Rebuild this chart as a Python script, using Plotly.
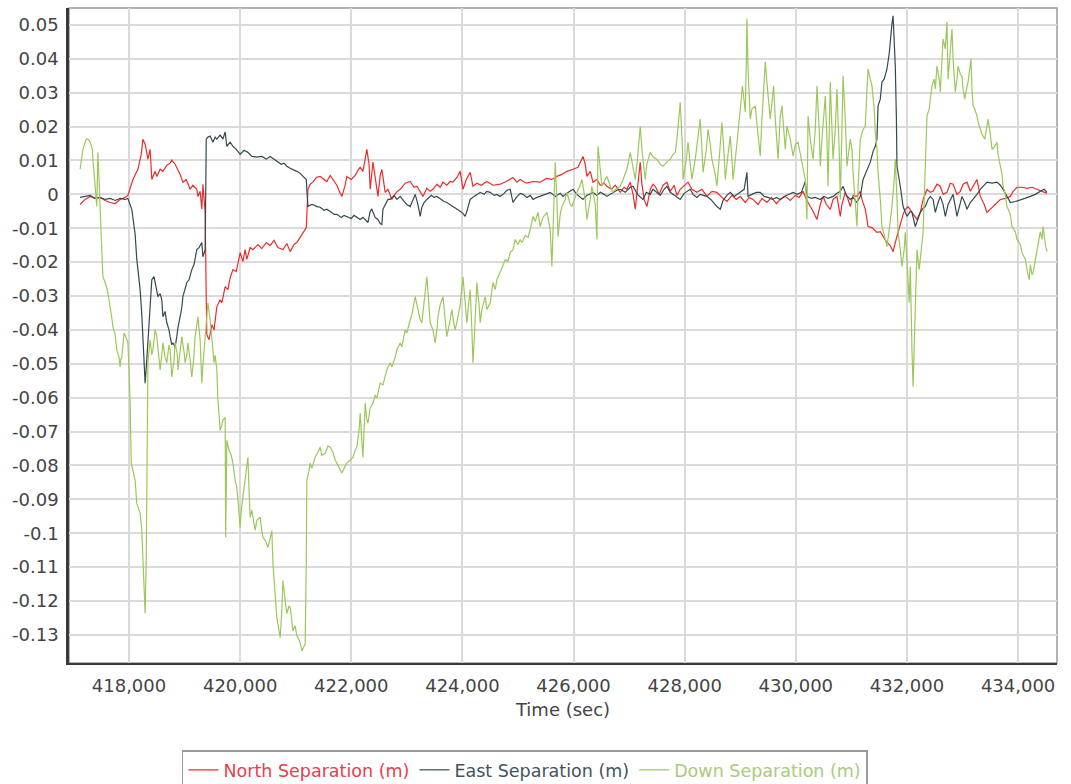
import plotly.graph_objects as go

# ---------------- data (time in seconds, separation in metres) ----------------
north_t = [
    417120, 417210, 417300, 417390, 417480, 417570, 417660, 417750, 417840, 417930,
    417980, 418070, 418160, 418220, 418250, 418290, 418340, 418380, 418410, 418470,
    418500, 418560, 418610, 418680, 418740, 418770, 418830, 418860, 418920, 418970,
    419030, 419100, 419150, 419220, 419240, 419280, 419310, 419330, 419370, 419390,
    419400, 419440, 419490, 419530, 419580, 419640, 419670, 419730, 419780, 419820,
    419870, 419930, 420000, 420050, 420090, 420120, 420180, 420230, 420320, 420390,
    420470, 420540, 420610, 420680, 420770, 420840, 420900, 420970, 421020, 421080,
    421130, 421190, 421220, 421260, 421310, 421370, 421440, 421510, 421560, 421620,
    421670, 421740, 421800, 421830, 421890, 421920, 422000, 422070, 422120, 422160,
    422210, 422250, 422280, 422320, 422340, 422390, 422450, 422480, 422520, 422550,
    422610, 422660, 422730, 422810, 422880, 422970, 423060, 423130, 423180, 423240,
    423290, 423360, 423420, 423470, 423540, 423600, 423650, 423720, 423780, 423830,
    423900, 423960, 424010, 424070, 424140, 424190, 424260, 424340, 424440, 424550,
    424680, 424790, 424910, 424980, 425040, 425150, 425270, 425400, 425510, 425610,
    425700, 425790, 425880, 425990, 426080, 426170, 426210, 426240, 426300, 426350,
    426420, 426480, 426550, 426600, 426680, 426750, 426840, 426910, 426960, 427020,
    427070, 427110, 427150, 427200, 427230, 427270, 427320, 427380, 427430, 427470,
    427540, 427610, 427680, 427740, 427810, 427860, 427920, 427990, 428060, 428130,
    428220, 428310, 428400, 428490, 428580, 428670, 428760, 428850, 428930, 429000,
    429090, 429160, 429230, 429320, 429390, 429480, 429560, 429650, 429720, 429810,
    429900, 429990, 430060, 430130, 430190, 430260, 430310, 430380, 430440, 430490,
    430550, 430620, 430670, 430740, 430800, 430830, 430890, 430940, 430980, 431030,
    431100, 431160, 431190, 431250, 431300, 431370, 431460, 431520, 431570, 431640,
    431700, 431750, 431790, 431840, 431880, 431930, 431970, 432020, 432090, 432150,
    432180, 432240, 432290, 432360, 432420, 432470, 432540, 432600, 432650, 432720,
    432780, 432830, 432900, 432960, 433010, 433080, 433140, 433190, 433260, 433320,
    433390, 433440, 433500, 433550, 433620, 433680, 433770, 433860, 433910, 433980,
    434070, 434160, 434250, 434340, 434430, 434520,
]
north_v = [
    -0.0030, -0.0015, -0.0006, -0.0012, -0.0009, -0.0018, -0.0024, -0.0027, -0.0015, -0.0009,
    -0.0003, 0.0044, 0.0074, 0.0118, 0.0163, 0.0148, 0.0104, 0.0133, 0.0044, 0.0068,
    0.0053, 0.0074, 0.0068, 0.0086, 0.0092, 0.0101, 0.0089, 0.0080, 0.0059, 0.0036,
    0.0044, 0.0015, 0.0027, 0.0015, -0.0006, 0.0009, -0.0044, 0.0030, -0.0053, -0.0311,
    -0.0414, -0.0429, -0.0385, -0.0400, -0.0332, -0.0311, -0.0320, -0.0272, -0.0281, -0.0246,
    -0.0222, -0.0228, -0.0172, -0.0198, -0.0163, -0.0192, -0.0157, -0.0163, -0.0148, -0.0160,
    -0.0142, -0.0151, -0.0136, -0.0157, -0.0163, -0.0145, -0.0169, -0.0148, -0.0142, -0.0127,
    -0.0112, -0.0098, 0.0015, 0.0030, 0.0036, 0.0050, 0.0053, 0.0044, 0.0038, 0.0056,
    0.0044, 0.0027, 0.0003, -0.0006, 0.0027, 0.0053, 0.0044, 0.0056, 0.0071, 0.0080,
    0.0068, 0.0104, 0.0133, 0.0089, 0.0015, 0.0095, 0.0036, -0.0006, 0.0056, 0.0074,
    0.0006, 0.0015, -0.0015, 0.0006, 0.0015, 0.0033, 0.0038, 0.0021, 0.0024, 0.0006,
    -0.0006, 0.0018, 0.0009, 0.0015, 0.0030, 0.0021, 0.0036, 0.0027, 0.0038, 0.0036,
    0.0050, 0.0068, 0.0015, 0.0044, 0.0065, 0.0024, 0.0033, 0.0027, 0.0038, 0.0027,
    0.0030, 0.0038, 0.0050, 0.0036, 0.0044, 0.0033, 0.0038, 0.0036, 0.0047, 0.0044,
    0.0053, 0.0059, 0.0068, 0.0074, 0.0080, 0.0112, 0.0089, 0.0053, 0.0068, 0.0036,
    0.0044, 0.0027, 0.0033, 0.0024, 0.0015, 0.0027, 0.0006, 0.0021, 0.0015, 0.0036,
    0.0000, -0.0044, 0.0015, 0.0095, 0.0030, -0.0015, -0.0036, 0.0015, 0.0030, 0.0024,
    0.0000, 0.0027, 0.0036, 0.0009, 0.0027, -0.0003, 0.0015, 0.0027, 0.0036, 0.0015,
    0.0006, 0.0015, -0.0006, 0.0009, 0.0006, -0.0009, -0.0021, -0.0003, -0.0015, -0.0006,
    -0.0024, -0.0009, -0.0015, -0.0030, -0.0012, -0.0024, -0.0009, -0.0027, -0.0015, -0.0006,
    -0.0018, -0.0003, -0.0009, 0.0009, -0.0015, -0.0036, -0.0050, -0.0074, -0.0030, -0.0006,
    -0.0030, -0.0044, -0.0015, -0.0006, -0.0065, -0.0030, 0.0006, -0.0015, -0.0036, -0.0003,
    -0.0006, 0.0009, -0.0015, -0.0044, -0.0095, -0.0098, -0.0112, -0.0110, -0.0124, -0.0142,
    -0.0151, -0.0169, -0.0142, -0.0110, -0.0083, -0.0059, -0.0044, -0.0036, -0.0053, -0.0065,
    -0.0074, -0.0053, -0.0015, 0.0015, 0.0006, 0.0009, 0.0030, 0.0024, 0.0000, 0.0006,
    0.0033, 0.0030, 0.0000, 0.0009, 0.0030, 0.0036, 0.0009, 0.0024, 0.0044, -0.0006,
    -0.0030, -0.0053, -0.0044, -0.0036, -0.0024, -0.0015, -0.0012, -0.0006, 0.0009, 0.0021,
    0.0021, 0.0018, 0.0021, 0.0015, 0.0009, 0.0003,
]

east_t = [
    417120, 417210, 417300, 417390, 417480, 417570, 417660, 417750, 417840, 417930,
    417980, 418050, 418110, 418140, 418200, 418230, 418250, 418270, 418290, 418320,
    418340, 418380, 418410, 418450, 418470, 418500, 418520, 418560, 418590, 418610,
    418650, 418680, 418720, 418740, 418770, 418790, 418830, 418860, 418880, 418920,
    418950, 418970, 419010, 419040, 419080, 419130, 419170, 419220, 419260, 419310,
    419330, 419370, 419390, 419420, 419460, 419510, 419550, 419580, 419640, 419690,
    419730, 419760, 419820, 419870, 419930, 420000, 420070, 420140, 420210, 420300,
    420390, 420470, 420540, 420610, 420660, 420740, 420790, 420840, 420900, 420950,
    421020, 421080, 421130, 421190, 421200, 421220, 421280, 421310, 421380, 421440,
    421510, 421560, 421640, 421690, 421740, 421820, 421870, 421920, 422000, 422050,
    422100, 422160, 422210, 422270, 422300, 422340, 422370, 422430, 422480, 422520,
    422550, 422570, 422610, 422660, 422700, 422770, 422820, 422880, 422950, 423000,
    423060, 423110, 423150, 423200, 423240, 423270, 423310, 423360, 423440, 423490,
    423540, 423620, 423670, 423720, 423780, 423850, 423900, 423960, 424010, 424050,
    424080, 424140, 424210, 424260, 424320, 424390, 424440, 424500, 424570, 424620,
    424680, 424750, 424800, 424860, 424910, 424970, 425040, 425090, 425160, 425220,
    425270, 425340, 425400, 425490, 425580, 425670, 425760, 425810, 425880, 425940,
    425990, 426060, 426120, 426170, 426240, 426300, 426350, 426420, 426480, 426550,
    426600, 426690, 426780, 426840, 426930, 427020, 427070, 427150, 427200, 427250,
    427310, 427380, 427430, 427500, 427560, 427630, 427680, 427740, 427790, 427860,
    427920, 427990, 428060, 428100, 428150, 428220, 428280, 428350, 428400, 428470,
    428530, 428580, 428640, 428690, 428760, 428820, 428890, 428940, 429000, 429070,
    429120, 429140, 429210, 429290, 429360, 429430, 429500, 429580, 429650, 429720,
    429790, 429860, 429950, 430020, 430100, 430170, 430200, 430280, 430350, 430440,
    430510, 430580, 430670, 430740, 430800, 430850, 430910, 430980, 431030, 431100,
    431160, 431210, 431270, 431340, 431390, 431430, 431460, 431480, 431520, 431550,
    431590, 431640, 431680, 431700, 431730, 431750, 431770, 431790, 431810, 431820,
    431880, 431930, 431970, 432000, 432060, 432090, 432150, 432180, 432240, 432290,
    432330, 432380, 432420, 432470, 432510, 432560, 432600, 432650, 432690, 432740,
    432780, 432830, 432900, 432960, 432990, 433040, 433080, 433140, 433190, 433260,
    433320, 433390, 433440, 433530, 433620, 433680, 433730, 433800, 433860, 433950,
    434040, 434120, 434220, 434310, 434400, 434470, 434520,
]
east_v = [
    -0.0009, -0.0006, -0.0003, -0.0012, -0.0009, -0.0015, -0.0012, -0.0018, -0.0012, -0.0015,
    -0.0012, -0.0044, -0.0118, -0.0192, -0.0281, -0.0355, -0.0438, -0.0518, -0.0557, -0.0488,
    -0.0438, -0.0340, -0.0252, -0.0243, -0.0260, -0.0281, -0.0302, -0.0293, -0.0311, -0.0361,
    -0.0346, -0.0379, -0.0400, -0.0420, -0.0444, -0.0438, -0.0450, -0.0420, -0.0394, -0.0361,
    -0.0334, -0.0302, -0.0281, -0.0260, -0.0252, -0.0222, -0.0207, -0.0163, -0.0157, -0.0142,
    -0.0184, -0.0163, 0.0163, 0.0169, 0.0172, 0.0154, 0.0169, 0.0163, 0.0175, 0.0163,
    0.0184, 0.0142, 0.0154, 0.0142, 0.0133, 0.0118, 0.0130, 0.0124, 0.0112, 0.0110,
    0.0112, 0.0104, 0.0112, 0.0104, 0.0098, 0.0089, 0.0092, 0.0083, 0.0077, 0.0074,
    0.0068, 0.0062, 0.0053, 0.0044, 0.0015, -0.0036, -0.0030, -0.0030, -0.0036, -0.0038,
    -0.0047, -0.0044, -0.0053, -0.0059, -0.0059, -0.0068, -0.0062, -0.0065, -0.0071, -0.0062,
    -0.0068, -0.0074, -0.0068, -0.0080, -0.0083, -0.0050, -0.0044, -0.0068, -0.0074, -0.0086,
    -0.0089, -0.0044, -0.0030, -0.0015, -0.0015, -0.0003, -0.0015, -0.0006, -0.0021, -0.0030,
    -0.0036, -0.0015, 0.0000, -0.0030, -0.0065, -0.0038, -0.0024, -0.0015, -0.0003, -0.0009,
    -0.0006, -0.0015, -0.0021, -0.0024, -0.0030, -0.0038, -0.0044, -0.0050, -0.0056, -0.0065,
    -0.0050, -0.0015, -0.0006, 0.0000, 0.0006, 0.0000, 0.0009, 0.0006, -0.0003, 0.0000,
    -0.0006, 0.0003, 0.0012, 0.0015, -0.0024, -0.0009, 0.0003, 0.0000, -0.0009, -0.0003,
    -0.0015, -0.0009, -0.0006, 0.0000, 0.0006, -0.0006, 0.0003, -0.0006, 0.0003, 0.0009,
    0.0015, 0.0000, -0.0009, -0.0015, -0.0003, 0.0003, 0.0006, -0.0003, 0.0006, 0.0000,
    -0.0006, 0.0003, 0.0012, 0.0015, 0.0006, 0.0021, 0.0024, 0.0000, -0.0009, -0.0015,
    0.0006, 0.0000, 0.0015, 0.0006, -0.0003, 0.0015, 0.0024, 0.0006, 0.0000, -0.0009,
    -0.0015, 0.0003, 0.0012, 0.0015, 0.0000, -0.0009, 0.0000, -0.0003, -0.0006, -0.0015,
    -0.0027, -0.0036, -0.0044, -0.0018, -0.0003, 0.0006, -0.0006, 0.0000, 0.0006, 0.0015,
    0.0065, -0.0006, 0.0000, 0.0006, 0.0006, -0.0006, -0.0009, -0.0015, -0.0009, -0.0015,
    -0.0006, 0.0000, 0.0006, 0.0000, 0.0006, 0.0038, -0.0006, -0.0012, -0.0009, -0.0015,
    -0.0006, -0.0012, -0.0006, 0.0003, 0.0009, 0.0024, -0.0003, -0.0015, -0.0009, -0.0024,
    -0.0006, 0.0044, 0.0068, 0.0095, 0.0127, 0.0142, 0.0163, 0.0261, 0.0281, 0.0332,
    0.0340, 0.0370, 0.0415, 0.0459, 0.0504, 0.0527, 0.0459, 0.0379, 0.0222, 0.0083,
    0.0024, -0.0036, -0.0053, -0.0065, -0.0050, -0.0053, -0.0095, -0.0080, -0.0053, -0.0041,
    -0.0036, -0.0015, -0.0006, -0.0015, -0.0053, -0.0024, -0.0006, -0.0030, -0.0065, -0.0030,
    -0.0015, 0.0000, -0.0065, -0.0030, -0.0006, -0.0024, -0.0044, -0.0024, -0.0015, 0.0000,
    0.0015, 0.0027, 0.0036, 0.0033, 0.0036, 0.0027, 0.0015, -0.0006, -0.0024, -0.0021,
    -0.0015, -0.0012, -0.0006, 0.0000, 0.0009, 0.0015, 0.0006,
]

down_t = [
    417120, 417170, 417230, 417260, 417300, 417340, 417350, 417390, 417410, 417420,
    417440, 417460, 417480, 417500, 417520, 417530, 417570, 417610, 417640, 417660,
    417690, 417710, 417750, 417780, 417820, 417840, 417850, 417870, 417890, 417910,
    417950, 417980, 418000, 418020, 418040, 418070, 418110, 418140, 418200, 418230,
    418250, 418270, 418290, 418310, 418320, 418340, 418380, 418410, 418430, 418470,
    418500, 418520, 418560, 418590, 418610, 418650, 418680, 418720, 418740, 418770,
    418810, 418830, 418870, 418880, 418920, 418950, 418990, 419010, 419040, 419060,
    419100, 419130, 419170, 419190, 419220, 419240, 419280, 419310, 419330, 419370,
    419400, 419420, 419460, 419490, 419530, 419550, 419580, 419600, 419640, 419670,
    419690, 419730, 419740, 419760, 419800, 419840, 419870, 419910, 419940, 419960,
    420000, 420020, 420050, 420090, 420140, 420160, 420180, 420210, 420270, 420300,
    420360, 420390, 420410, 420450, 420500, 420540, 420570, 420590, 420630, 420660,
    420700, 420720, 420750, 420770, 420810, 420840, 420880, 420900, 420930, 420950,
    420990, 421020, 421040, 421080, 421110, 421150, 421170, 421190, 421200, 421240,
    421260, 421290, 421350, 421400, 421440, 421470, 421530, 421580, 421620, 421670,
    421710, 421760, 421830, 421890, 421920, 421980, 422030, 422070, 422100, 422140,
    422160, 422190, 422210, 422250, 422280, 422300, 422340, 422390, 422430, 422460,
    422520, 422570, 422610, 422640, 422700, 422730, 422790, 422820, 422880, 422910,
    422970, 423000, 423060, 423090, 423150, 423200, 423240, 423270, 423310, 423360,
    423390, 423420, 423470, 423510, 423540, 423560, 423600, 423650, 423690, 423720,
    423780, 423810, 423850, 423870, 423920, 423960, 424010, 424050, 424080, 424120,
    424140, 424170, 424190, 424230, 424260, 424300, 424320, 424350, 424410, 424440,
    424500, 424550, 424590, 424620, 424680, 424730, 424770, 424820, 424860, 424910,
    424950, 425000, 425040, 425070, 425130, 425180, 425220, 425270, 425310, 425360,
    425400, 425450, 425520, 425580, 425610, 425650, 425670, 425700, 425720, 425760,
    425790, 425850, 425880, 425940, 425970, 426030, 426060, 426120, 426150, 426210,
    426240, 426300, 426330, 426390, 426420, 426440, 426480, 426510, 426570, 426600,
    426650, 426700, 426760, 426840, 426890, 426960, 427020, 427060, 427110, 427150,
    427200, 427230, 427290, 427320, 427380, 427430, 427500, 427560, 427610, 427680,
    427740, 427790, 427830, 427860, 427920, 427960, 427970, 428030, 428060, 428100,
    428130, 428190, 428220, 428280, 428310, 428330, 428390, 428420, 428460, 428490,
    428550, 428580, 428620, 428670, 428710, 428730, 428780, 428820, 428850, 428870,
    428930, 428960, 429000, 429040, 429070, 429090, 429110, 429120, 429140, 429180,
    429210, 429270, 429310, 429360, 429390, 429450, 429490, 429540, 429600, 429630,
    429680, 429720, 429750, 429810, 429840, 429900, 429950, 429990, 430040, 430100,
    430130, 430170, 430200, 430220, 430260, 430310, 430350, 430380, 430420, 430440,
    430470, 430530, 430560, 430580, 430620, 430650, 430670, 430710, 430740, 430780,
    430800, 430830, 430850, 430890, 430920, 430980, 431010, 431030, 431070, 431100,
    431120, 431160, 431210, 431250, 431280, 431300, 431340, 431370, 431410, 431430,
    431460, 431480, 431520, 431550, 431610, 431640, 431680, 431730, 431770, 431790,
    431820, 431840, 431880, 431910, 431950, 431970, 432000, 432020, 432040, 432060,
    432070, 432090, 432110, 432130, 432150, 432180, 432220, 432240, 432270, 432290,
    432310, 432330, 432360, 432400, 432420, 432450, 432490, 432510, 432540, 432580,
    432600, 432630, 432650, 432690, 432720, 432740, 432780, 432810, 432830, 432870,
    432900, 432920, 432960, 432990, 433010, 433040, 433080, 433100, 433130, 433150,
    433170, 433190, 433220, 433260, 433290, 433320, 433350, 433400, 433440, 433460,
    433500, 433530, 433570, 433620, 433640, 433680, 433710, 433730, 433770, 433800,
    433860, 433890, 433950, 433980, 434040, 434070, 434130, 434160, 434200, 434220,
    434250, 434270, 434310, 434340, 434360, 434400, 434430, 434450, 434490, 434520,
]
down_v = [
    0.0074, 0.0133, 0.0163, 0.0163, 0.0154, 0.0133, 0.0104, 0.0030, -0.0015, -0.0036,
    0.0124, 0.0030, -0.0053, -0.0133, -0.0222, -0.0243, -0.0260, -0.0281, -0.0311, -0.0340,
    -0.0364, -0.0391, -0.0414, -0.0459, -0.0480, -0.0509, -0.0488, -0.0480, -0.0429, -0.0409,
    -0.0423, -0.0438, -0.0518, -0.0616, -0.0793, -0.0814, -0.0844, -0.0912, -0.0941, -0.0992,
    -0.1089, -0.1169, -0.1237, -0.1080, -0.0793, -0.0497, -0.0429, -0.0474, -0.0459, -0.0400,
    -0.0420, -0.0453, -0.0518, -0.0474, -0.0438, -0.0482, -0.0497, -0.0444, -0.0459, -0.0539,
    -0.0488, -0.0438, -0.0474, -0.0518, -0.0459, -0.0420, -0.0465, -0.0497, -0.0474, -0.0438,
    -0.0488, -0.0539, -0.0474, -0.0420, -0.0385, -0.0361, -0.0429, -0.0557, -0.0503, -0.0420,
    -0.0370, -0.0320, -0.0370, -0.0429, -0.0497, -0.0474, -0.0518, -0.0607, -0.0696, -0.0681,
    -0.0666, -0.0658, -0.1012, -0.0726, -0.0755, -0.0770, -0.0793, -0.0844, -0.0864, -0.0903,
    -0.0983, -0.0932, -0.0894, -0.0844, -0.0776, -0.0873, -0.0953, -0.0932, -0.0992, -0.0962,
    -0.0953, -0.0992, -0.1012, -0.1021, -0.1042, -0.1015, -0.0992, -0.1089, -0.1169, -0.1249,
    -0.1288, -0.1308, -0.1228, -0.1140, -0.1199, -0.1237, -0.1214, -0.1220, -0.1258, -0.1288,
    -0.1273, -0.1303, -0.1308, -0.1323, -0.1347, -0.1332, -0.1327, -0.1080, -0.0844, -0.0814,
    -0.0793, -0.0808, -0.0776, -0.0761, -0.0746, -0.0770, -0.0764, -0.0743, -0.0746, -0.0761,
    -0.0784, -0.0799, -0.0823, -0.0802, -0.0793, -0.0784, -0.0776, -0.0755, -0.0746, -0.0696,
    -0.0645, -0.0726, -0.0776, -0.0616, -0.0666, -0.0675, -0.0631, -0.0616, -0.0592, -0.0601,
    -0.0557, -0.0562, -0.0539, -0.0518, -0.0497, -0.0509, -0.0480, -0.0459, -0.0438, -0.0450,
    -0.0400, -0.0409, -0.0370, -0.0355, -0.0302, -0.0340, -0.0370, -0.0379, -0.0311, -0.0243,
    -0.0311, -0.0379, -0.0400, -0.0438, -0.0400, -0.0361, -0.0326, -0.0302, -0.0370, -0.0420,
    -0.0370, -0.0340, -0.0385, -0.0400, -0.0361, -0.0326, -0.0243, -0.0326, -0.0379, -0.0311,
    -0.0281, -0.0400, -0.0497, -0.0370, -0.0260, -0.0326, -0.0379, -0.0340, -0.0302, -0.0340,
    -0.0320, -0.0260, -0.0281, -0.0252, -0.0231, -0.0210, -0.0192, -0.0198, -0.0172, -0.0163,
    -0.0133, -0.0148, -0.0133, -0.0142, -0.0121, -0.0127, -0.0104, -0.0065, -0.0080, -0.0053,
    -0.0095, -0.0068, -0.0053, -0.0104, -0.0213, -0.0044, 0.0095, -0.0015, -0.0124, -0.0059,
    -0.0036, -0.0015, 0.0006, -0.0030, -0.0036, -0.0009, 0.0006, 0.0027, 0.0044, -0.0015,
    -0.0074, -0.0015, 0.0024, -0.0030, -0.0133, 0.0142, 0.0059, 0.0024, 0.0044, 0.0053,
    0.0030, 0.0006, 0.0015, 0.0024, 0.0044, 0.0074, 0.0124, 0.0089, 0.0044, 0.0104,
    0.0201, 0.0133, 0.0044, 0.0089, 0.0124, 0.0110, 0.0104, 0.0089, 0.0083, 0.0095,
    0.0104, 0.0118, 0.0124, 0.0163, 0.0272, 0.0133, 0.0044, 0.0104, 0.0154, 0.0089,
    0.0044, 0.0104, 0.0142, 0.0222, 0.0133, 0.0065, 0.0133, 0.0192, 0.0148, 0.0104,
    0.0059, 0.0024, 0.0104, 0.0213, 0.0118, 0.0044, 0.0118, 0.0172, 0.0104, 0.0044,
    0.0133, 0.0192, 0.0252, 0.0320, 0.0281, 0.0243, 0.0400, 0.0518, 0.0370, 0.0222,
    0.0252, 0.0261, 0.0192, 0.0113, 0.0222, 0.0391, 0.0311, 0.0222, 0.0320, 0.0222,
    0.0104, 0.0231, 0.0261, 0.0133, 0.0201, 0.0163, 0.0113, 0.0148, 0.0154, 0.0104,
    0.0083, 0.0044, -0.0074, 0.0231, 0.0163, 0.0104, 0.0192, 0.0320, 0.0192, 0.0083,
    0.0163, 0.0290, 0.0163, 0.0024, 0.0332, 0.0222, 0.0104, 0.0192, 0.0311, 0.0133,
    -0.0015, 0.0192, 0.0349, 0.0222, 0.0083, 0.0163, 0.0133, 0.0065, -0.0015, -0.0095,
    0.0015, 0.0163, 0.0192, 0.0201, 0.0311, 0.0370, 0.0340, 0.0320, 0.0252, 0.0184,
    0.0133, 0.0065, -0.0015, -0.0095, -0.0133, -0.0154, -0.0104, -0.0036, 0.0044, 0.0104,
    -0.0015, -0.0112, -0.0163, -0.0213, -0.0163, -0.0112, -0.0192, -0.0252, -0.0320, -0.0213,
    -0.0311, -0.0459, -0.0568, -0.0429, -0.0281, -0.0163, -0.0222, -0.0192, -0.0133, -0.0112,
    -0.0015, 0.0083, 0.0231, 0.0252, 0.0281, 0.0320, 0.0340, 0.0311, 0.0379, 0.0340,
    0.0302, 0.0400, 0.0459, 0.0429, 0.0509, 0.0340, 0.0415, 0.0488, 0.0400, 0.0302,
    0.0340, 0.0379, 0.0355, 0.0349, 0.0311, 0.0281, 0.0317, 0.0332, 0.0370, 0.0400,
    0.0311, 0.0261, 0.0252, 0.0231, 0.0207, 0.0192, 0.0178, 0.0163, 0.0207, 0.0222,
    0.0178, 0.0133, 0.0139, 0.0154, 0.0118, 0.0083, 0.0059, 0.0024, 0.0000, -0.0036,
    -0.0059, -0.0095, -0.0110, -0.0133, -0.0148, -0.0172, -0.0192, -0.0222, -0.0252, -0.0207,
    -0.0237, -0.0231, -0.0192, -0.0163, -0.0154, -0.0110, -0.0133, -0.0095, -0.0148, -0.0169,
]

series_names = ["North Separation (m)", "East Separation (m)", "Down Separation (m)"]
series_colors = ["#ee2b2b", "#34494f", "#9cc85a"]
legend_text_colors = ["#e8404a", "#3f5560", "#aacb7c"]

x_tick_vals = [418000, 420000, 422000, 424000, 426000, 428000, 430000, 432000, 434000]
x_tick_text = ["418,000", "420,000", "422,000", "424,000", "426,000", "428,000",
               "430,000", "432,000", "434,000"]
y_tick_vals = [0.05, 0.04, 0.03, 0.02, 0.01, 0, -0.01, -0.02, -0.03, -0.04, -0.05, -0.06,
               -0.07, -0.08, -0.09, -0.1, -0.11, -0.12, -0.13]
y_tick_text = ["0.05", "0.04", "0.03", "0.02", "0.01", "0", "-0.01", "-0.02", "-0.03",
               "-0.04", "-0.05", "-0.06", "-0.07", "-0.08", "-0.09", "-0.1", "-0.11",
               "-0.12", "-0.13"]

assert len(north_t) == len(north_v)
assert len(east_t) == len(east_v)
assert len(down_t) == len(down_v)

FONT = "DejaVu Sans"
TXT = "#444444"

fig = go.Figure()
for name, tt, vv, col, tcol in zip(series_names, [north_t, east_t, down_t],
                                   [north_v, east_v, down_v], series_colors,
                                   legend_text_colors):
    fig.add_trace(go.Scatter(
        x=tt, y=vv, mode="lines", line=dict(color=col, width=1.2),
        name='<span style="color:%s">%s</span>' % (tcol, name),
    ))

fig.update_layout(
    width=1071, height=784,
    margin=dict(l=69, r=14, t=8, b=121, autoexpand=False),
    paper_bgcolor="white", plot_bgcolor="white",
    font=dict(family=FONT, size=17, color=TXT),
    showlegend=True,
    legend=dict(orientation="h", x=0.4615, xanchor="center", y=-0.1335, yanchor="top",
                bordercolor="#9a9a9a", borderwidth=1.5, bgcolor="white",
                font=dict(family=FONT, size=17.5), itemwidth=30),
    xaxis=dict(
        range=[416920, 434700], tickvals=x_tick_vals, ticktext=x_tick_text,
        showgrid=True, gridcolor="#dadada", gridwidth=1.5,
        showline=True, linecolor="#3a3a3a", linewidth=2,
        ticks="", zeroline=False, automargin=False, ticklabelstandoff=5,
        tickfont=dict(family=FONT, size=18, color=TXT),
        title=dict(text="Time (sec)", font=dict(family=FONT, size=18, color=TXT),
                   standoff=9),
    ),
    yaxis=dict(
        range=[-0.1383, 0.0550], tickvals=y_tick_vals, ticktext=y_tick_text,
        showgrid=True, gridcolor="#dadada", gridwidth=1.5,
        showline=True, linecolor="#3a3a3a", linewidth=2.5,
        ticks="", zeroline=False, automargin=False, ticklabelstandoff=4,
        tickfont=dict(family=FONT, size=18, color=TXT),
    ),
    shapes=[dict(type="rect", xref="paper", yref="paper", x0=0, x1=1, y0=0, y1=1,
                 line=dict(color="#9a9a9a", width=1.5), layer="below")],
)

# the page body has a default 8px margin; remove it so the figure fills the window
fig.write_html("out.html",
               config={"displayModeBar": False},
               post_script="document.body.style.margin='0px';"
                           "document.body.style.overflow='hidden';")
